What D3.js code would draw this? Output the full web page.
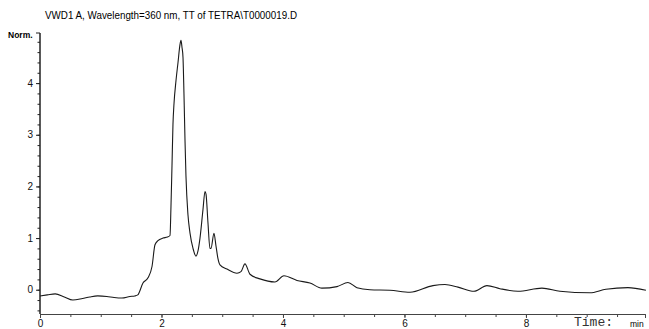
<!DOCTYPE html>
<html>
<head>
<meta charset="utf-8">
<script src="https://cdn.jsdelivr.net/npm/d3@7"></script>
<style>
  body { margin: 0; background: #fff; }
  svg { display: block; }
</style>
</head>
<body>
<div id="chart"></div>
<script>
// chromatogram trace (time in min, signal in Norm.)
var time = [0.00, 0.12, 0.25, 0.40, 0.54, 0.70, 0.82, 0.95, 1.10, 1.22, 1.35, 1.48, 1.56, 1.61,
  1.695, 1.778, 1.844, 1.893, 1.942, 2.025, 2.099, 2.140, 2.156, 2.173, 2.189, 2.206, 2.239,
  2.272, 2.305, 2.321, 2.337, 2.354, 2.370, 2.387, 2.403, 2.436, 2.469, 2.519, 2.568, 2.601,
  2.634, 2.683, 2.716, 2.733, 2.765, 2.798, 2.815, 2.864, 2.897, 2.930, 2.963, 3.078, 3.243,
  3.309, 3.374, 3.457, 3.621, 3.868, 4.016, 4.230, 4.444, 4.642, 4.889, 5.070, 5.218, 5.432,
  5.761, 6.091, 6.469, 6.667, 6.881, 7.144, 7.358, 7.572, 7.868, 8.263, 8.560, 9.053, 9.317,
  9.679, 9.975];
var signal = [-0.12, -0.10, -0.08, -0.14, -0.20, -0.17, -0.14, -0.12, -0.13, -0.15, -0.16, -0.13, -0.12, -0.10,
  0.13, 0.23, 0.45, 0.87, 0.95, 1.00, 1.02, 1.05, 1.60, 2.40, 3.20, 3.60, 4.05,
  4.40, 4.75, 4.83, 4.70, 4.50, 3.80, 2.90, 2.20, 1.45, 1.10, 0.80, 0.65, 0.75,
  1.00, 1.55, 1.90, 1.85, 1.30, 0.80, 0.80, 1.09, 0.85, 0.60, 0.48, 0.40, 0.32,
  0.35, 0.50, 0.30, 0.21, 0.15, 0.27, 0.18, 0.13, 0.03, 0.06, 0.14, 0.04, 0.00,
  -0.01, -0.05, 0.08, 0.10, 0.05, -0.03, 0.08, 0.02, -0.03, 0.03, -0.03, -0.06, 0.01,
  0.04, -0.01];

var xTickLabels = [0, 2, 4, 6, 8];
var yTickLabels = [0, 1, 2, 3, 4];
var title = "VWD1 A, Wavelength=360 nm, TT of TETRA\\T0000019.D";

var width = 649, height = 329;

var svg = d3.select("#chart").append("svg")
  .attr("width", width)
  .attr("height", height);

var x = d3.scaleLinear().domain([0, 9.96]).range([40, 645]);
var y = d3.scaleLinear().domain([-0.47, 4.97]).range([314, 33]);

// title
svg.append("text")
  .attr("x", 45).attr("y", 19)
  .attr("font-family", "Liberation Sans, Arial, sans-serif")
  .attr("font-size", 10.5)
  .attr("textLength", 252)
  .attr("lengthAdjust", "spacingAndGlyphs")
  .text(title);

svg.append("text")
  .attr("x", 8).attr("y", 38)
  .attr("font-family", "Liberation Sans, Arial, sans-serif")
  .attr("font-size", 8.5)
  .attr("font-weight", "bold")
  .text("Norm.");

// y axis: minor ticks every 0.2, labels on integers
var yAxisG = svg.append("g").attr("transform", "translate(40,0)");
yAxisG.call(d3.axisLeft(y).tickValues(d3.range(-0.4, 4.9, 0.2)).tickSize(2.5).tickFormat(""));
yAxisG.append("g").call(d3.axisLeft(y).tickValues(yTickLabels).tickSize(4).tickPadding(3).tickFormat(d3.format("d")));
yAxisG.selectAll(".domain").attr("d", "M0," + y.range()[0] + "V" + y.range()[1]);
yAxisG.append("line").attr("x1", -4).attr("x2", 0).attr("y1", 33).attr("y2", 33).attr("stroke", "#222");
yAxisG.selectAll("text")
  .attr("font-family", "Liberation Sans, Arial, sans-serif")
  .attr("font-size", 10).attr("fill", "#111");
yAxisG.selectAll("line, path").attr("stroke", "#222");

// x axis: minor ticks every 0.5 min
var xAxisG = svg.append("g").attr("transform", "translate(0,314)");
xAxisG.call(d3.axisBottom(x).tickValues(d3.range(0, 10, 0.5)).tickSize(3).tickFormat(""));
xAxisG.append("g").call(d3.axisBottom(x).tickValues(xTickLabels).tickSize(4).tickPadding(2).tickFormat(d3.format("d")));
xAxisG.selectAll("text")
  .attr("font-family", "Liberation Sans, Arial, sans-serif")
  .attr("font-size", 10).attr("fill", "#111");
xAxisG.selectAll("line, path").attr("stroke", "#444");

svg.append("text")
  .attr("x", 574).attr("y", 326)
  .attr("font-family", "Liberation Mono, Courier New, monospace")
  .attr("font-size", 13)
  .attr("fill", "#333")
  .text("Time:");

svg.append("text")
  .attr("x", 630).attr("y", 327)
  .attr("font-family", "Liberation Sans, Arial, sans-serif")
  .attr("font-size", 8.5)
  .text("min");

// trace
var points = time.map(function(t, i) { return [t, signal[i]]; });
var trace = d3.line()
  .x(function(d) { return x(d[0]); })
  .y(function(d) { return y(d[1]); })
  .curve(d3.curveMonotoneX);

svg.append("path")
  .datum(points)
  .attr("fill", "none")
  .attr("stroke", "#1a1a1a")
  .attr("stroke-width", 1.1)
  .attr("d", trace);
</script>
</body>
</html>
